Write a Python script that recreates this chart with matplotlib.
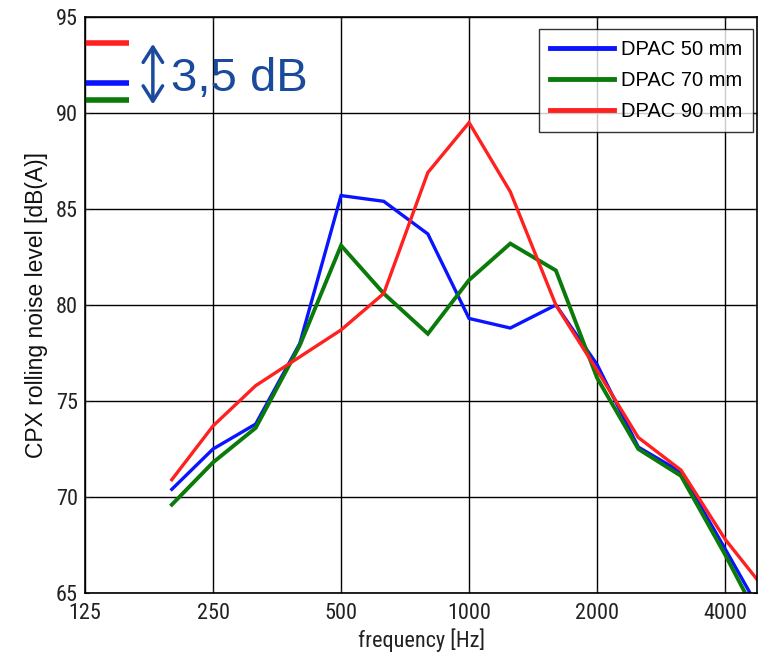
import matplotlib
matplotlib.use("Agg")
import matplotlib.pyplot as plt
from matplotlib import font_manager

freqs = [200, 250, 315, 400, 500, 630, 800, 1000, 1250, 1600, 2000, 2500, 3150, 4000, 5000]
dpac50 = [70.4, 72.5, 73.8, 78.0, 85.7, 85.4, 83.7, 79.3, 78.8, 80.0, 76.9, 72.6, 71.3, 67.3, 63.5]
dpac70 = [69.6, 71.8, 73.6, 77.9, 83.1, 80.6, 78.5, 81.3, 83.2, 81.8, 76.2, 72.5, 71.1, 67.0, 62.9]
dpac90 = [70.9, 73.7, 75.8, 77.3, 78.7, 80.6, 86.9, 89.5, 85.9, 80.0, 76.6, 73.1, 71.4, 67.8, 65.1]
labels = ["DPAC 50 mm", "DPAC 70 mm", "DPAC 90 mm"]
colors = ["#0a14ff", "#0a7a0a", "#ff2020"]
xticks = [125, 250, 500, 1000, 2000, 4000]
yticks = [65, 70, 75, 80, 85, 90, 95]
marker_levels = [91.55, 90.7, 93.65]  # blue, green, red short lines

names = {f.name for f in font_manager.fontManager.ttflist}
narrow = None
for cand in ["Liberation Sans Narrow", "Arial Narrow", "Roboto Condensed", "Open Sans Condensed"]:
    if cand in names:
        narrow = cand
        break
plt.rcParams['font.family'] = ['Liberation Sans', 'DejaVu Sans']

fig = plt.figure(figsize=(7.58, 6.55), dpi=100)
ax = fig.add_axes([85/758, 62/655, 672/758, 576/655])

for vals, lab, c, lw in zip([dpac50, dpac70, dpac90], labels, colors, [2.4, 2.8, 2.4]):
    ax.plot(freqs, vals, color=c, lw=lw, label=lab, solid_joinstyle='miter')

ax.set_xscale('log')
ax.set_xlim(125, 4754)
ax.set_ylim(65, 95)
ax.set_xticks(xticks)
ax.set_xticklabels([str(t) for t in xticks])
ax.minorticks_off()
ax.set_yticks(yticks)
ax.set_yticklabels([str(t) for t in yticks])
ax.grid(True, color='black', lw=1.0)
tick_size = 16 if narrow else 14
ax.tick_params(direction='in', length=3, top=True, right=True, labelsize=tick_size, colors='#222222')
ax.tick_params(axis='x', pad=7)
ax.tick_params(axis='y', pad=5)
if narrow:
    for lab in ax.get_xticklabels() + ax.get_yticklabels():
        lab.set_family(narrow)
for s in ax.spines.values():
    s.set_color('black')
    s.set_linewidth(1.2)

ax.set_xlabel("frequency [Hz]", fontsize=16 if narrow else 14, family=narrow or 'Liberation Sans',
              color='#222222', labelpad=3)
ax.set_ylabel("CPX rolling noise level [dB(A)]", fontsize=16.5, color='#111111', labelpad=6)

leg = ax.legend(loc='upper right', fontsize=14.5, frameon=True, fancybox=False, edgecolor='black',
                handlelength=3.2, borderpad=0.55, labelspacing=0.6, handletextpad=0.3,
                borderaxespad=0.0, bbox_to_anchor=(0.994, 0.979))
leg.get_frame().set_linewidth(1.0)
for h in leg.get_lines():
    h.set_linewidth(3.5)

# annotation: short level lines, arrow and text
trans = ax.get_yaxis_transform()
for lvl, c in zip(marker_levels, colors):
    ax.plot([0, 0.066], [lvl, lvl], color=c, lw=4, transform=trans, solid_capstyle='butt', clip_on=False)
ax.annotate("", xy=(0.101, 90.45), xytext=(0.101, 93.6), xycoords=trans, textcoords=trans,
            arrowprops=dict(arrowstyle='<->,head_length=0.55,head_width=0.35', color='#1a4a9c',
                            lw=2.5, mutation_scale=20, shrinkA=0, shrinkB=0))
ax.text(0.128, 91.75, "3,5 dB", transform=trans, fontsize=34, color='#1a4a9c', va='center', ha='left')

fig.savefig("out.png", dpi=100)
